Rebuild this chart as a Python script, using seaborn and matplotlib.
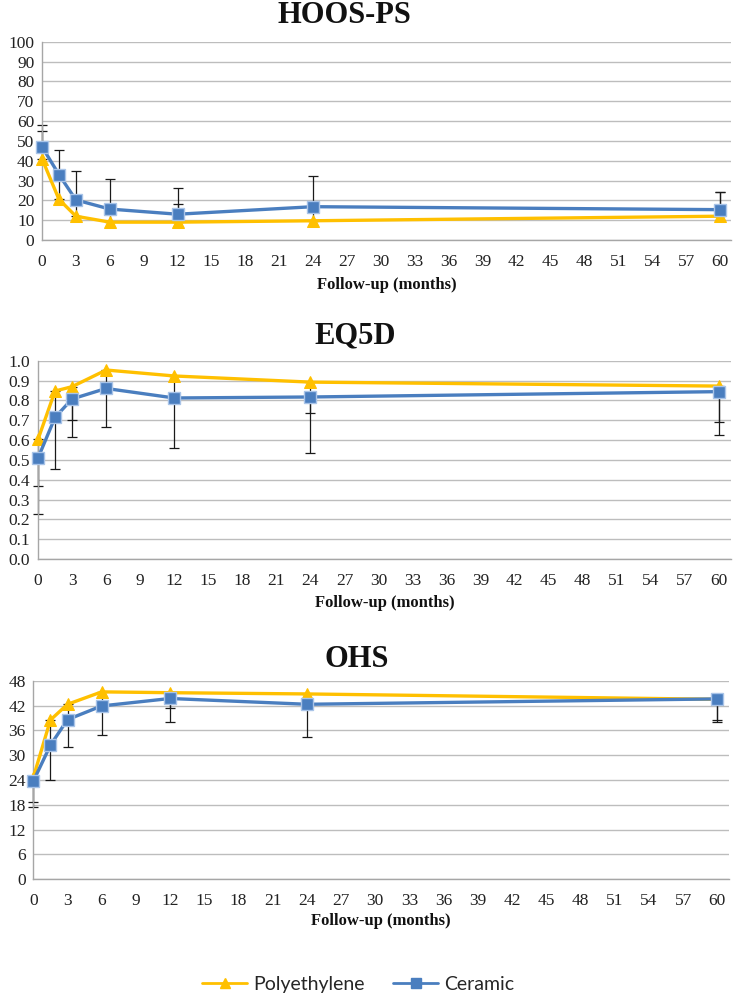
import numpy as np
import pandas as pd
import matplotlib
matplotlib.use("Agg")
import matplotlib.pyplot as plt
from matplotlib.lines import Line2D
import seaborn as sns

# ---------------- data ----------------
months = [0, 1.5, 3, 6, 12, 24, 60]
groups = ["Polyethylene", "Ceramic"]

hoos_poly = [41, 20.5, 12, 9, 9, 9.7, 12]
hoos_cer = [47, 33, 20.2, 15.6, 13, 16.8, 15.3]
hoos_poly_sd = [14, 10.5, 6, 6, 9.2, 5, 12]
hoos_cer_sd = [11, 12.2, 14.6, 15.4, 13, 15.5, 8.7]

eq_poly = [0.603, 0.847, 0.869, 0.953, 0.923, 0.892, 0.872]
eq_cer = [0.509, 0.714, 0.807, 0.860, 0.812, 0.817, 0.844]
eq_poly_sd = [0.233, 0.12, 0.17, 0.08, 0.10, 0.156, 0.18]
eq_cer_sd = [0.28, 0.26, 0.19, 0.195, 0.254, 0.283, 0.22]

ohs_poly = [24.6, 38.5, 42.3, 45.3, 45.1, 44.8, 43.5]
ohs_cer = [23.7, 32.4, 38.6, 41.9, 43.7, 42.3, 43.6]
ohs_poly_sd = [5.8, 5.5, 3.3, 3.3, 3.6, 2.3, 4.9]
ohs_cer_sd = [6.3, 8.5, 6.7, 7.0, 5.7, 7.9, 5.6]

titles = ["HOOS-PS", "EQ5D", "OHS"]
xticks = list(range(0, 61, 3))
yticks_list = [list(range(0, 101, 10)),
               [round(v * 0.1, 1) for v in range(0, 11)],
               list(range(0, 49, 6))]
ylabels_fmt = ["{:.0f}", "{:.1f}", "{:.0f}"]
xlabel = "Follow-up (months)"

panels = [
    (hoos_poly, hoos_cer, hoos_poly_sd, hoos_cer_sd, +1),
    (eq_poly, eq_cer, eq_poly_sd, eq_cer_sd, -1),
    (ohs_poly, ohs_cer, ohs_poly_sd, ohs_cer_sd, -1),
]

# ---------------- style ----------------
sns.set_style("white")
plt.rcParams["font.family"] = ["Liberation Serif", "DejaVu Serif"]

YEL = "#FFC000"
BLUE = "#4A7EBF"
BLUE_EDGE = "#A9C4E8"
GRID = "#BDBDBD"
SPINE = "#A6A6A6"

fig = plt.figure(figsize=(7.34, 9.97), dpi=100)

rects = [
    [42 / 734, 1 - 240 / 997, (731 - 42) / 734, 198.3 / 997],
    [38 / 734, 1 - 559 / 997, (731 - 38) / 734, 198.3 / 997],
    [33.3 / 734, 1 - 879.3 / 997, (729 - 33.3) / 734, 198.6 / 997],
]
xmaxs = [60 + 11 / 11.3, 60 + 12 / 11.35, 60 + 11.7 / 11.4]
title_base = [23, 343, 667]
title_x = [344, 355, 357]
xlabel_y = [285, 603, 921]

for i, (poly, cer, psd, csd, sign) in enumerate(panels):
    ax = fig.add_axes(rects[i])
    yt = yticks_list[i]
    df = pd.DataFrame({
        "month": months * 2,
        "value": list(poly) + list(cer),
        "sd": list(psd) + list(csd),
        "group": [groups[0]] * len(months) + [groups[1]] * len(months),
    })
    # error bars (one-sided)
    for g in groups:
        sub = df[df["group"] == g]
        if sign > 0:
            yerr = [np.zeros(len(sub)), sub["sd"].values]
        else:
            yerr = [sub["sd"].values, np.zeros(len(sub))]
        eb = ax.errorbar(sub["month"], sub["value"], yerr=yerr, fmt="none",
                         ecolor="#1a1a1a", elinewidth=0.9, capsize=3.5,
                         capthick=0.9, zorder=2)
        for art in eb.lines[1] + eb.lines[2]:
            art.set_clip_on(False)
    sub = df[df["group"] == "Polyethylene"]
    sns.lineplot(data=sub, x="month", y="value", color=YEL, marker="^",
                 markersize=9, markeredgecolor=YEL, linewidth=2.4,
                 ax=ax, legend=False, zorder=3, clip_on=False)
    sub = df[df["group"] == "Ceramic"]
    sns.lineplot(data=sub, x="month", y="value", color=BLUE, marker="s",
                 markersize=9, markeredgecolor=BLUE_EDGE, markeredgewidth=1.0,
                 linewidth=2.4, ax=ax, legend=False, zorder=4, clip_on=False)

    ax.set_xlim(0, xmaxs[i])
    ax.set_ylim(yt[0], yt[-1])
    ax.set_xticks(xticks)
    ax.set_xticklabels([str(t) for t in xticks])
    ax.set_yticks(yt)
    ax.set_yticklabels([ylabels_fmt[i].format(v) for v in yt])
    ax.yaxis.grid(True, color=GRID, linewidth=1.0)
    ax.xaxis.grid(False)
    ax.set_axisbelow(True)
    for s in ["top", "right"]:
        ax.spines[s].set_visible(False)
    for s in ["left", "bottom"]:
        ax.spines[s].set_color(SPINE)
        ax.spines[s].set_linewidth(1.0)
    ax.tick_params(axis="both", which="major", direction="out", length=4,
                   width=1.0, color=SPINE, labelsize=12.5, labelcolor="#222222")
    ax.tick_params(axis="x", pad=6)
    ax.tick_params(axis="y", pad=1.5)
    ax.set_xlabel("")
    ax.set_ylabel("")
    cx = rects[i][0] + rects[i][2] / 2
    fig.text(title_x[i] / 734, 1 - title_base[i] / 997, titles[i], ha="center",
             va="baseline", fontsize=22, fontweight="bold", color="#111111")
    fig.text(cx, 1 - xlabel_y[i] / 997, xlabel, ha="center", va="center",
             fontsize=12, fontweight="bold", color="#111111")

handles = [
    Line2D([], [], color=YEL, marker="^", markersize=7, markeredgecolor=YEL,
           linewidth=2.0),
    Line2D([], [], color=BLUE, marker="s", markersize=6.5,
           markeredgecolor=BLUE, linewidth=2.0),
]
fig.legend(handles, groups, loc="center", bbox_to_anchor=(0.488, 1 - 984 / 997),
           ncol=2, frameon=False, handlelength=2.3, columnspacing=1.5,
           handletextpad=0.3, prop={"family": "Lato", "size": 14})

fig.savefig("out.png", dpi=100)
